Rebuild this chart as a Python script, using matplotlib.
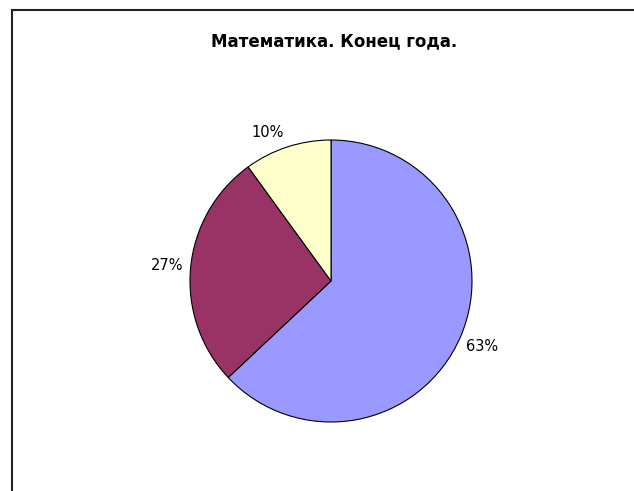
import numpy as np
import matplotlib.pyplot as plt
from matplotlib.patches import Rectangle

labels = ["63%", "27%", "10%"]
values = [63, 27, 10]
colors = ["#9999ff", "#993366", "#ffffcc"]
title = "Математика. Конец года."

W, H = 634, 491
fig = plt.figure(figsize=(W / 100, H / 100), dpi=100)

# frame of the chart area (runs off the right and bottom edges)
fig.patches.append(Rectangle((12 / W, -0.1), 1.2, (H - 10) / H + 0.1,
                             transform=fig.transFigure, fill=False,
                             edgecolor="#222222", linewidth=1.5))

cx, cy, r = 331, 281, 141
ax = fig.add_axes([(cx - r) / W, (H - cy - r) / H, 2 * r / W, 2 * r / H])
wedges, texts, autotexts = ax.pie(
    values, colors=colors, startangle=90, counterclock=False,
    autopct=lambda p: "%d%%" % round(p), pctdistance=1.17,
    wedgeprops=dict(edgecolor="black", linewidth=0.8),
    textprops=dict(fontsize=10.5, color="black"))
# the small slice label sits a bit further round
a = np.deg2rad(112.5)
autotexts[2].set_position((1.17 * np.cos(a), 1.14 * np.sin(a)))
ax.set_xlim(-1, 1)
ax.set_ylim(-1, 1)

fig.text(334 / W, 1 - 41 / H, title, ha="center", va="center",
         fontsize=12, fontweight="bold")

fig.savefig("out.png", dpi=100)
